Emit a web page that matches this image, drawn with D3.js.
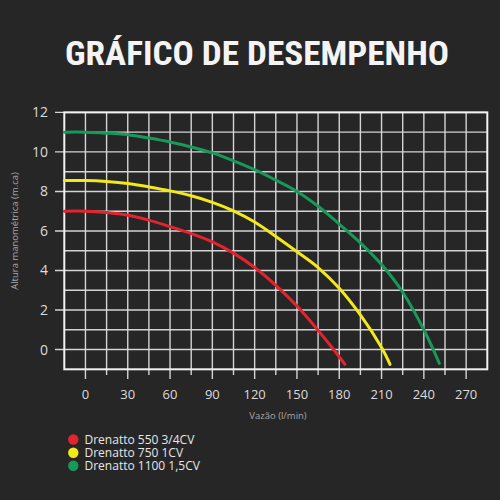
<!DOCTYPE html>
<html><head><meta charset="utf-8">
<script src="https://cdn.jsdelivr.net/npm/d3@7"></script>
<style>html,body{margin:0;padding:0;background:#262626;}svg{display:block;}</style>
</head><body>
<script>
const title = "GRÁFICO DE DESEMPENHO";
const xLabel = "Vazão (l/min)";
const yLabel = "Altura manométrica  (m.ca)";
const xTicks = [0,30,60,90,120,150,180,210,240,270];
const yTicks = [0,2,4,6,8,10,12];
const seriesNames = ["Drenatto 550 3/4CV","Drenatto 750 1CV","Drenatto 1100 1,5CV"];
const seriesColors = ["#e3232e","#f3e81a","#17995a"];
const redX = [-15,0,15,30,45,60,75,90,105,120,135,150,165,176,184];
const redY = [7.0,7.0,6.93,6.8,6.55,6.22,5.87,5.45,4.88,4.15,3.25,2.2,0.97,0.0,-0.75];
const yellowX = [-15,0,15,30,45,60,75,90,105,120,135,150,165,180,195,210,216];
const yellowY = [8.55,8.55,8.5,8.4,8.23,8.03,7.78,7.45,7.02,6.45,5.72,4.95,4.15,3.1,1.75,0.1,-0.75];
const greenX = [-15,0,15,30,45,60,75,90,105,120,135,150,165,180,195,210,225,240,251];
const greenY = [11.0,11.0,10.95,10.87,10.7,10.5,10.25,9.95,9.55,9.1,8.57,8.0,7.25,6.35,5.4,4.3,2.9,1.0,-0.7];
const seriesX = [redX, yellowX, greenX];
const seriesY = [redY, yellowY, greenY];

const W = 500, H = 500;
const svg = d3.select("body").append("svg").attr("width",W).attr("height",H);
svg.append("rect").attr("width",W).attr("height",H).attr("fill","#262626");

const x = d3.scaleLinear().domain([-15,285]).range([64.3,487.3]);
const y = d3.scaleLinear().domain([-1,12]).range([369.3,112.4]);

svg.append("text").attr("x",257).attr("y",65).attr("text-anchor","middle")
  .attr("font-family","'Liberation Sans Narrow','Roboto Condensed',Roboto,sans-serif")
  .attr("font-weight","bold").attr("font-size",34).attr("fill","#f4f4f4")
  .attr("textLength",384).attr("lengthAdjust","spacingAndGlyphs").text(title);

const gridColor = "#d4d4d4";
const g = svg.append("g");
g.selectAll("line.vg").data(d3.range(0,285,15)).enter().append("line")
  .attr("x1",d=>x(d)).attr("x2",d=>x(d)).attr("y1",y(12)).attr("y2",d=> (d%30===0)? 379 : 375)
  .attr("stroke",gridColor).attr("stroke-width",1.4);
g.selectAll("line.hg").data(d3.range(0,13,1)).enter().append("line")
  .attr("x1",d=> (d%2===0)? 55 : x(-15)).attr("x2",x(285)).attr("y1",d=>y(d)).attr("y2",d=>y(d))
  .attr("stroke",gridColor).attr("stroke-width",1.4);
svg.append("rect").attr("x",x(-15)).attr("y",y(12)).attr("width",x(285)-x(-15)).attr("height",y(-1)-y(12))
  .attr("fill","none").attr("stroke","#f2f2f2").attr("stroke-width",2);

const line = d3.line().x(d=>x(d[0])).y(d=>y(d[1])).curve(d3.curveCatmullRom.alpha(0.5));
seriesX.forEach((xs,i)=>{
  const pts = xs.map((v,j)=>[v, seriesY[i][j]]);
  svg.append("path").attr("d",line(pts)).attr("fill","none")
    .attr("stroke",seriesColors[i]).attr("stroke-width",3).attr("stroke-linecap","round");
});

const font = "'Open Sans','DejaVu Sans',sans-serif";
svg.selectAll("text.yt").data(yTicks).enter().append("text")
  .attr("x",48).attr("y",d=>y(d)+5).attr("text-anchor","end")
  .attr("font-family",font).attr("font-size",14).attr("fill","#dcdcdc").text(d=>d);
svg.selectAll("text.xt").data(xTicks).enter().append("text")
  .attr("x",d=>x(d)).attr("y",399).attr("text-anchor","middle")
  .attr("font-family",font).attr("font-size",13).attr("fill","#dcdcdc").text(d=>d);
svg.append("text").attr("x",278).attr("y",419).attr("text-anchor","middle")
  .attr("font-family",font).attr("font-size",9.5).attr("fill","#a8a8a8").text(xLabel);
svg.append("text").attr("transform","translate(18,231) rotate(-90)").attr("text-anchor","middle")
  .attr("font-family",font).attr("font-size",9.5).attr("fill","#a8a8a8").text(yLabel);

const legY = [439.5,452.7,465.7];
seriesNames.forEach((n,i)=>{
  svg.append("circle").attr("cx",73.3).attr("cy",legY[i]).attr("r",5.2).attr("fill",seriesColors[i]);
  svg.append("text").attr("x",84.5).attr("y",legY[i]+4.3)
    .attr("font-family",font).attr("font-size",12).attr("fill","#e6e6e6").text(n);
});
</script>
</body></html>
